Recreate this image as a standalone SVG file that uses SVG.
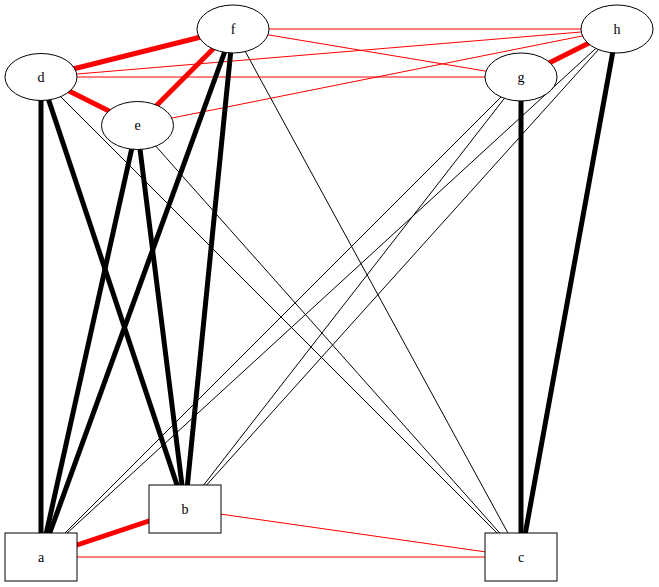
<svg xmlns="http://www.w3.org/2000/svg" width="659" height="587" viewBox="0 0 659 587">
<style>
.n ellipse, .n rect { fill: #fff; stroke: #000; stroke-width: 1; }
.n text { font-family: "Liberation Serif", "Times New Roman", serif; font-size: 14px; text-anchor: middle; fill: #000; }
.tk { stroke: #000; stroke-width: 5; }
.tn { stroke: #000; stroke-width: 1; }
.rk { stroke: #f00; stroke-width: 5; }
.rn { stroke: #f00; stroke-width: 1; }
</style>
<rect width="659" height="587" fill="#fff"/>
<g id="edges" fill="none">
  <line class="tn" x1="41" y1="77" x2="521" y2="557"/>
  <line class="tn" x1="137" y1="125" x2="521" y2="557"/>
  <line class="tn" x1="233" y1="29" x2="521" y2="557"/>
  <line class="tn" x1="521" y1="77" x2="41" y2="557"/>
  <line class="tn" x1="521" y1="77" x2="185" y2="509"/>
  <line class="tn" x1="617" y1="29" x2="41" y2="557"/>
  <line class="tn" x1="617" y1="29" x2="185" y2="509"/>
  <line class="rn" x1="233" y1="29" x2="617" y2="29"/>
  <line class="rn" x1="233" y1="29" x2="521" y2="77"/>
  <line class="rn" x1="41" y1="77" x2="617" y2="29"/>
  <line class="rn" x1="41" y1="77" x2="521" y2="77"/>
  <line class="rn" x1="137" y1="125" x2="617" y2="29"/>
  <line class="rn" x1="41" y1="557" x2="521" y2="557"/>
  <line class="rn" x1="185" y1="509" x2="521" y2="557"/>
  <line class="tk" x1="41" y1="77" x2="41" y2="557"/>
  <line class="tk" x1="41" y1="77" x2="185" y2="509"/>
  <line class="tk" x1="137" y1="125" x2="41" y2="557"/>
  <line class="tk" x1="137" y1="125" x2="185" y2="509"/>
  <line class="tk" x1="233" y1="29" x2="41" y2="557"/>
  <line class="tk" x1="233" y1="29" x2="185" y2="509"/>
  <line class="tk" x1="521" y1="77" x2="521" y2="557"/>
  <line class="tk" x1="617" y1="29" x2="521" y2="557"/>
  <line class="rk" x1="41" y1="77" x2="233" y2="29"/>
  <line class="rk" x1="41" y1="77" x2="137" y2="125"/>
  <line class="rk" x1="137" y1="125" x2="233" y2="29"/>
  <line class="rk" x1="521" y1="77" x2="617" y2="29"/>
  <line class="rk" x1="41" y1="557" x2="185" y2="509"/>
</g>
<g id="node-d" class="n"><ellipse cx="41" cy="77" rx="36" ry="23.5"/><text x="41" y="81.5">d</text></g>
<g id="node-e" class="n"><ellipse cx="137.5" cy="125.5" rx="36" ry="24"/><text x="137.5" y="130">e</text></g>
<g id="node-f" class="n"><ellipse cx="233" cy="29" rx="36" ry="24"/><text x="233" y="33.5">f</text></g>
<g id="node-g" class="n"><ellipse cx="521" cy="77" rx="36" ry="24"/><text x="521" y="81.5">g</text></g>
<g id="node-h" class="n"><ellipse cx="617" cy="29" rx="36" ry="24"/><text x="617" y="33.5">h</text></g>
<g id="node-a" class="n"><rect x="5" y="533" width="72" height="48"/><text x="41" y="561.5">a</text></g>
<g id="node-b" class="n"><rect x="149" y="485" width="72" height="48"/><text x="185" y="513.5">b</text></g>
<g id="node-c" class="n"><rect x="485" y="533" width="72" height="48"/><text x="521" y="561.5">c</text></g>
</svg>
